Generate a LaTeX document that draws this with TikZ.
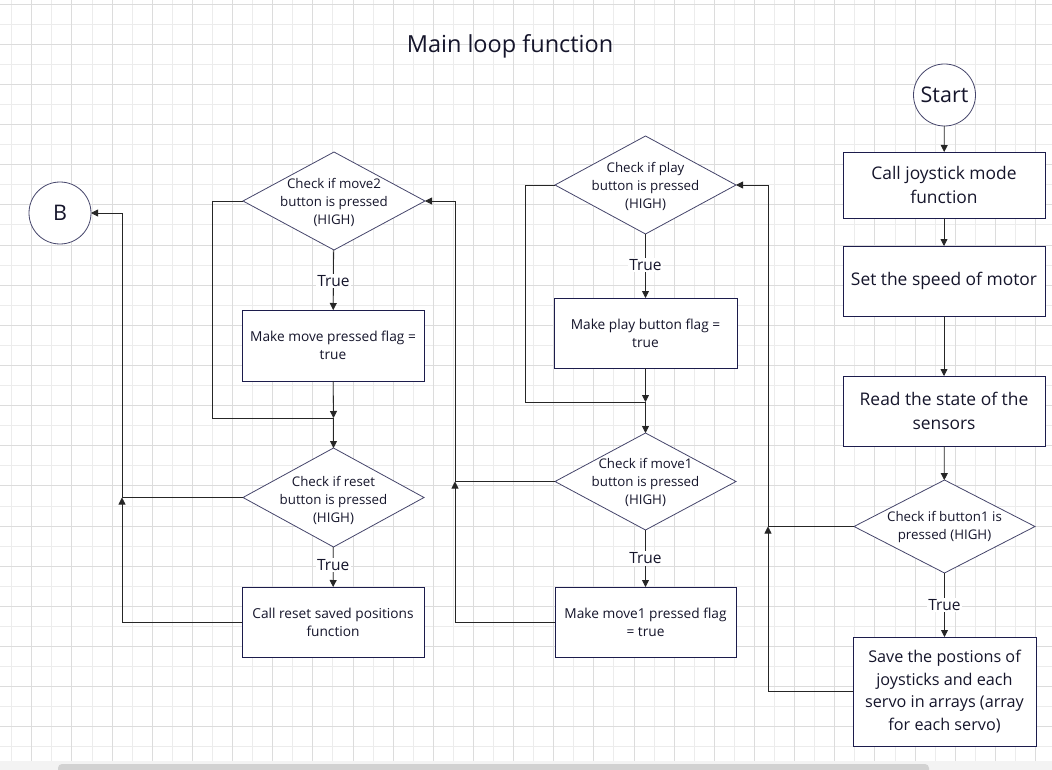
\documentclass[tikz,border=0pt]{standalone}
\usepackage{fontspec}
\setmainfont{Open Sans}
\usetikzlibrary{arrows.meta,shapes.geometric,calc}
\definecolor{gridmajor}{HTML}{DCDCDC}
\definecolor{gridminor}{HTML}{ECECEC}
\definecolor{boxc}{HTML}{1C1C4C}
\definecolor{diac}{HTML}{45456B}
\definecolor{linec}{HTML}{262626}
\definecolor{textc}{HTML}{15152B}
\definecolor{stripc}{HTML}{F3F3F3}
\definecolor{scrollc}{HTML}{D2D2D2}
\tikzset{
  bigbox/.style={draw=boxc, line width=0.9pt, fill=white, inner sep=0pt, outer sep=0pt,
    align=center, text=textc, font=\fontsize{17.4}{23.5}\selectfont},
  smallbox/.style={draw=boxc, line width=0.9pt, fill=white, inner sep=0pt, outer sep=0pt,
    align=center, text=textc, font=\fontsize{13.7}{18}\selectfont},
  decision/.style={diamond, draw=diac, line width=0.8pt, fill=white, inner sep=0pt, outer sep=0pt},
  dtext/.style={align=center, text=textc, font=\fontsize{13.3}{18}\selectfont, inner sep=0pt},
  term/.style={circle, draw=diac, line width=0.8pt, fill=white, inner sep=0pt, outer sep=0pt,
    minimum size=62pt, text=textc, font=\fontsize{21.5}{24}\selectfont},
  arr/.style={draw=linec, line width=0.8pt, -{Triangle[length=7pt,width=7pt]}},
  conn/.style={draw=linec, line width=0.8pt},
  truelabel/.style={fill=white, inner sep=1.5pt, text=textc, font=\fontsize{15.5}{18}\selectfont}
}
\begin{document}
\begin{tikzpicture}[x=1pt,y=-1pt]
\useasboundingbox (0,0) rectangle (1052,770);
\fill[white] (0,0) rectangle (1052,761);
% grid
\foreach \k in {0,...,25} {\draw[gridminor, line width=0.8pt] ({11.6+40.15*\k},0) -- ({11.6+40.15*\k},761);}
\foreach \k in {0,...,18} {\draw[gridminor, line width=0.8pt] (0,{24.1+40.15*\k}) -- (1052,{24.1+40.15*\k});}
\foreach \k in {0,...,25} {\draw[gridmajor, line width=0.8pt] ({31.7+40.15*\k},0) -- ({31.7+40.15*\k},761);}
\foreach \k in {0,...,18} {\draw[gridmajor, line width=0.8pt] (0,{4+40.15*\k}) -- (1052,{4+40.15*\k});}
% bottom strip and scrollbar
\fill[stripc] (0,761) rectangle (1052,770);
\fill[scrollc, rounded corners=4pt] (58,764) rectangle (929,776);

% title
\node[text=textc, font=\fontsize{23.5}{28}\selectfont] (title) at (510,46) {Main loop function};

% terminals
\node[term] (B) at (60,213) {B};
\node[term] (start) at (944.5,95) {Start};

% right column
\node[bigbox, minimum width=202pt, minimum height=66pt] (call) at (944,185) {Call joystick mode\\function};
\node[bigbox, minimum width=202pt, minimum height=70pt] (speed) at (944,281) {Set the speed of motor};
\node[bigbox, minimum width=202pt, minimum height=70pt] (read) at (944,411) {Read the state of the\\sensors};
\node[decision, minimum width=181pt, minimum height=93pt] (d1) at (944.5,526.5) {};
\node[dtext] (d1t) at (944.5,527) {Check if button1 is\\pressed (HIGH)};
\node[bigbox, minimum width=183pt, minimum height=109pt, font=\fontsize{16.2}{22.5}\selectfont] (save) at (944.5,691.5) {Save the postions of\\joysticks and each\\servo in arrays (array\\for each servo)};

% middle column
\node[decision, minimum width=181pt, minimum height=98pt] (play) at (645.5,185) {};
\node[dtext] (playt) at (645.5,186) {Check if play\\button is pressed\\(HIGH)};
\node[smallbox, minimum width=183pt, minimum height=70pt] (pbox) at (645.5,333) {Make play button flag =\\true};
\node[decision, minimum width=181pt, minimum height=97pt] (m1) at (645.5,481.5) {};
\node[dtext] (m1t) at (645.5,482) {Check if move1\\button is pressed\\(HIGH)};
\node[smallbox, minimum width=181pt, minimum height=70pt] (m1box) at (645.5,622) {Make move1 pressed flag\\= true};

% left column
\node[decision, minimum width=182pt, minimum height=98pt] (m2) at (334,201) {};
\node[dtext] (m2t) at (334,202) {Check if move2\\button is pressed\\(HIGH)};
\node[smallbox, minimum width=182pt, minimum height=71pt] (mbox) at (333,345.5) {Make move pressed flag =\\true};
\node[decision, minimum width=181pt, minimum height=99pt] (reset) at (333.5,497.5) {};
\node[dtext] (resett) at (333.5,500) {Check if reset\\button is pressed\\(HIGH)};
\node[smallbox, minimum width=182pt, minimum height=70pt] (rbox) at (333,622) {Call reset saved positions\\function};

% junction coordinates
\coordinate (j1) at (768,526.5);
\coordinate (j2) at (645.5,402);
\coordinate (j3) at (455,481.5);
\coordinate (j4) at (333.5,418);
\coordinate (j5) at (122,497.5);

% right column connectors
\draw[arr] (start) -- (call);
\draw[arr] (call) -- (speed);
\draw[arr] (speed) -- (read);
\draw[arr] (read) -- (d1);
\draw[arr] (d1) -- node[truelabel] (t5) {True} (save);
\draw[arr] (save.west) -| (j1);
\draw[arr] (d1.west) -- (j1) |- (play.east);

% middle column connectors
\draw[arr] (play) -- node[truelabel, pos=0.48] (t3) {True} (pbox);
\draw[arr] (pbox) -- (j2);
\draw[conn] (play.west) -- ++(-30,0) |- (j2);
\draw[arr] (j2) -- (m1);
\draw[arr] (m1) -- node[truelabel, pos=0.5] (t4) {True} (m1box);
\draw[arr] (m1box.west) -| (j3);
\draw[arr] (m1.west) -- (j3) |- (m2.east);

% left column connectors
\draw[arr] (m2) -- node[truelabel, pos=0.52] (t1) {True} (mbox);
\draw[arr] (mbox) -- (j4);
\draw[conn] (m2.west) -- ++(-31,0) |- (j4);
\draw[arr] (j4) -- (reset);
\draw[arr] (reset) -- node[truelabel, pos=0.45] (t2) {True} (rbox);
\draw[arr] (rbox.west) -| (j5);
\draw[arr] (reset.west) -- (j5) |- (B.east);
\end{tikzpicture}
\end{document}
